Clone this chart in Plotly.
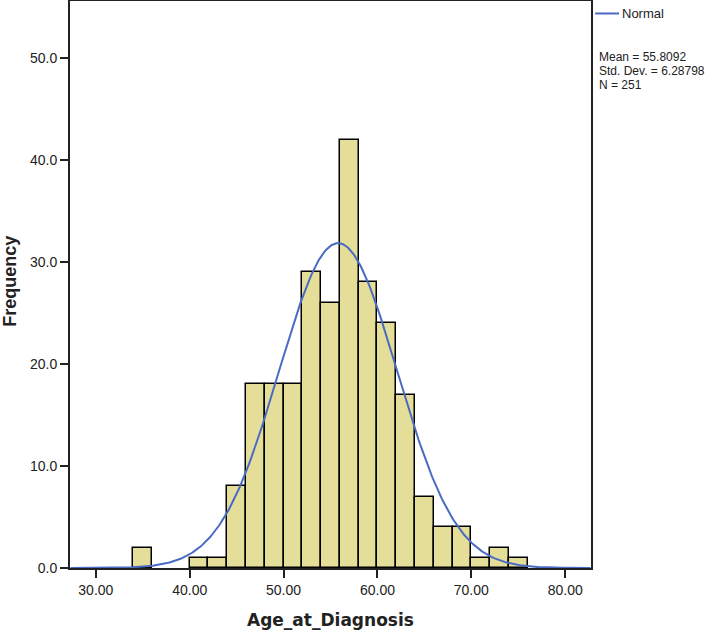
import numpy as np
import plotly.graph_objects as go

bin_left = [34, 40, 42, 44, 46, 48, 50, 52, 54, 56, 58, 60, 62, 64, 66, 68, 70, 72, 74]
counts = [2, 1, 1, 8, 18, 18, 18, 29, 26, 42, 28, 24, 17, 7, 4, 4, 1, 2, 1]
bin_width = 2
mean = 55.8092
sd = 6.28798
n = 251
x_ticks = [30, 40, 50, 60, 70, 80]
x_tick_labels = ["30.00", "40.00", "50.00", "60.00", "70.00", "80.00"]
y_ticks = [0, 10, 20, 30, 40, 50]
y_tick_labels = ["0.0", "10.0", "20.0", "30.0", "40.0", "50.0"]
stat_lines = [f"Mean = {mean}", f"Std. Dev. = {sd}", f"N = {n}"]

centers = [b + bin_width / 2 for b in bin_left]
xs = np.linspace(27.3, 82.7, 400)
ys = n * bin_width / (sd * np.sqrt(2 * np.pi)) * np.exp(-0.5 * ((xs - mean) / sd) ** 2)

fig = go.Figure()
fig.add_trace(go.Bar(x=centers, y=counts, width=[bin_width] * len(centers),
                     marker=dict(color="#E5DE98", line=dict(color="black", width=1.5)),
                     showlegend=False))
fig.add_trace(go.Scatter(x=xs, y=ys, mode="lines", line=dict(color="#4A6BC3", width=2),
                         name="Normal", showlegend=False))

fig.update_layout(
    width=724, height=630,
    margin=dict(l=70, r=133, t=1, b=62, autoexpand=False),
    paper_bgcolor="white", plot_bgcolor="white",
    font=dict(family="Liberation Sans, Arial, sans-serif", size=14, color="#222"),
    bargap=0,
    xaxis=dict(range=[27.25, 82.75], tickvals=x_ticks, ticktext=x_tick_labels, automargin=False,
               showgrid=False, zeroline=False, showline=True, linecolor="#222", linewidth=2,
               mirror=True, ticks="outside", ticklen=8, tickwidth=2, tickcolor="#222"),
    yaxis=dict(range=[0, 55.6], tickvals=y_ticks, ticktext=y_tick_labels, automargin=False,
               showgrid=False, zeroline=False, showline=True, linecolor="#222", linewidth=2,
               mirror=True, ticks="outside", ticklen=8, tickwidth=2, tickcolor="#222"),
)

# axis titles
fig.add_annotation(xref="paper", yref="paper", x=0.5, y=0, yshift=-52, text="<b>Age_at_Diagnosis</b>",
                   showarrow=False, xanchor="center", yanchor="middle",
                   font=dict(family="DejaVu Sans, sans-serif", size=17, color="#222"))
fig.add_annotation(xref="paper", yref="paper", x=0, xshift=-60, y=0.505, text="<b>Frequency</b>",
                   showarrow=False, textangle=-90, xanchor="center", yanchor="middle",
                   font=dict(family="Liberation Sans, Arial, sans-serif", size=18, color="#222"))

# legend-like sample line and text outside plot area
fig.add_shape(type="line", xref="paper", yref="paper", x0=1.008, x1=1.054, y0=0.978, y1=0.978,
              line=dict(color="#4A6BC3", width=2))
fig.add_annotation(xref="paper", yref="paper", x=1.056, y=0.978, text="Normal", showarrow=False,
                   xanchor="left", yanchor="middle", font=dict(size=13, color="#222"))
for i, line in enumerate(stat_lines):
    fig.add_annotation(xref="paper", yref="paper", x=1.014, y=0.901 - i * 0.0247,
                       text=line, showarrow=False, xanchor="left", yanchor="middle",
                       borderpad=0, font=dict(size=12, color="#222"))

fig.write_html("out.html", config={"displayModeBar": False},
               post_script="document.body.style.margin='0';document.body.style.overflow='hidden';")
